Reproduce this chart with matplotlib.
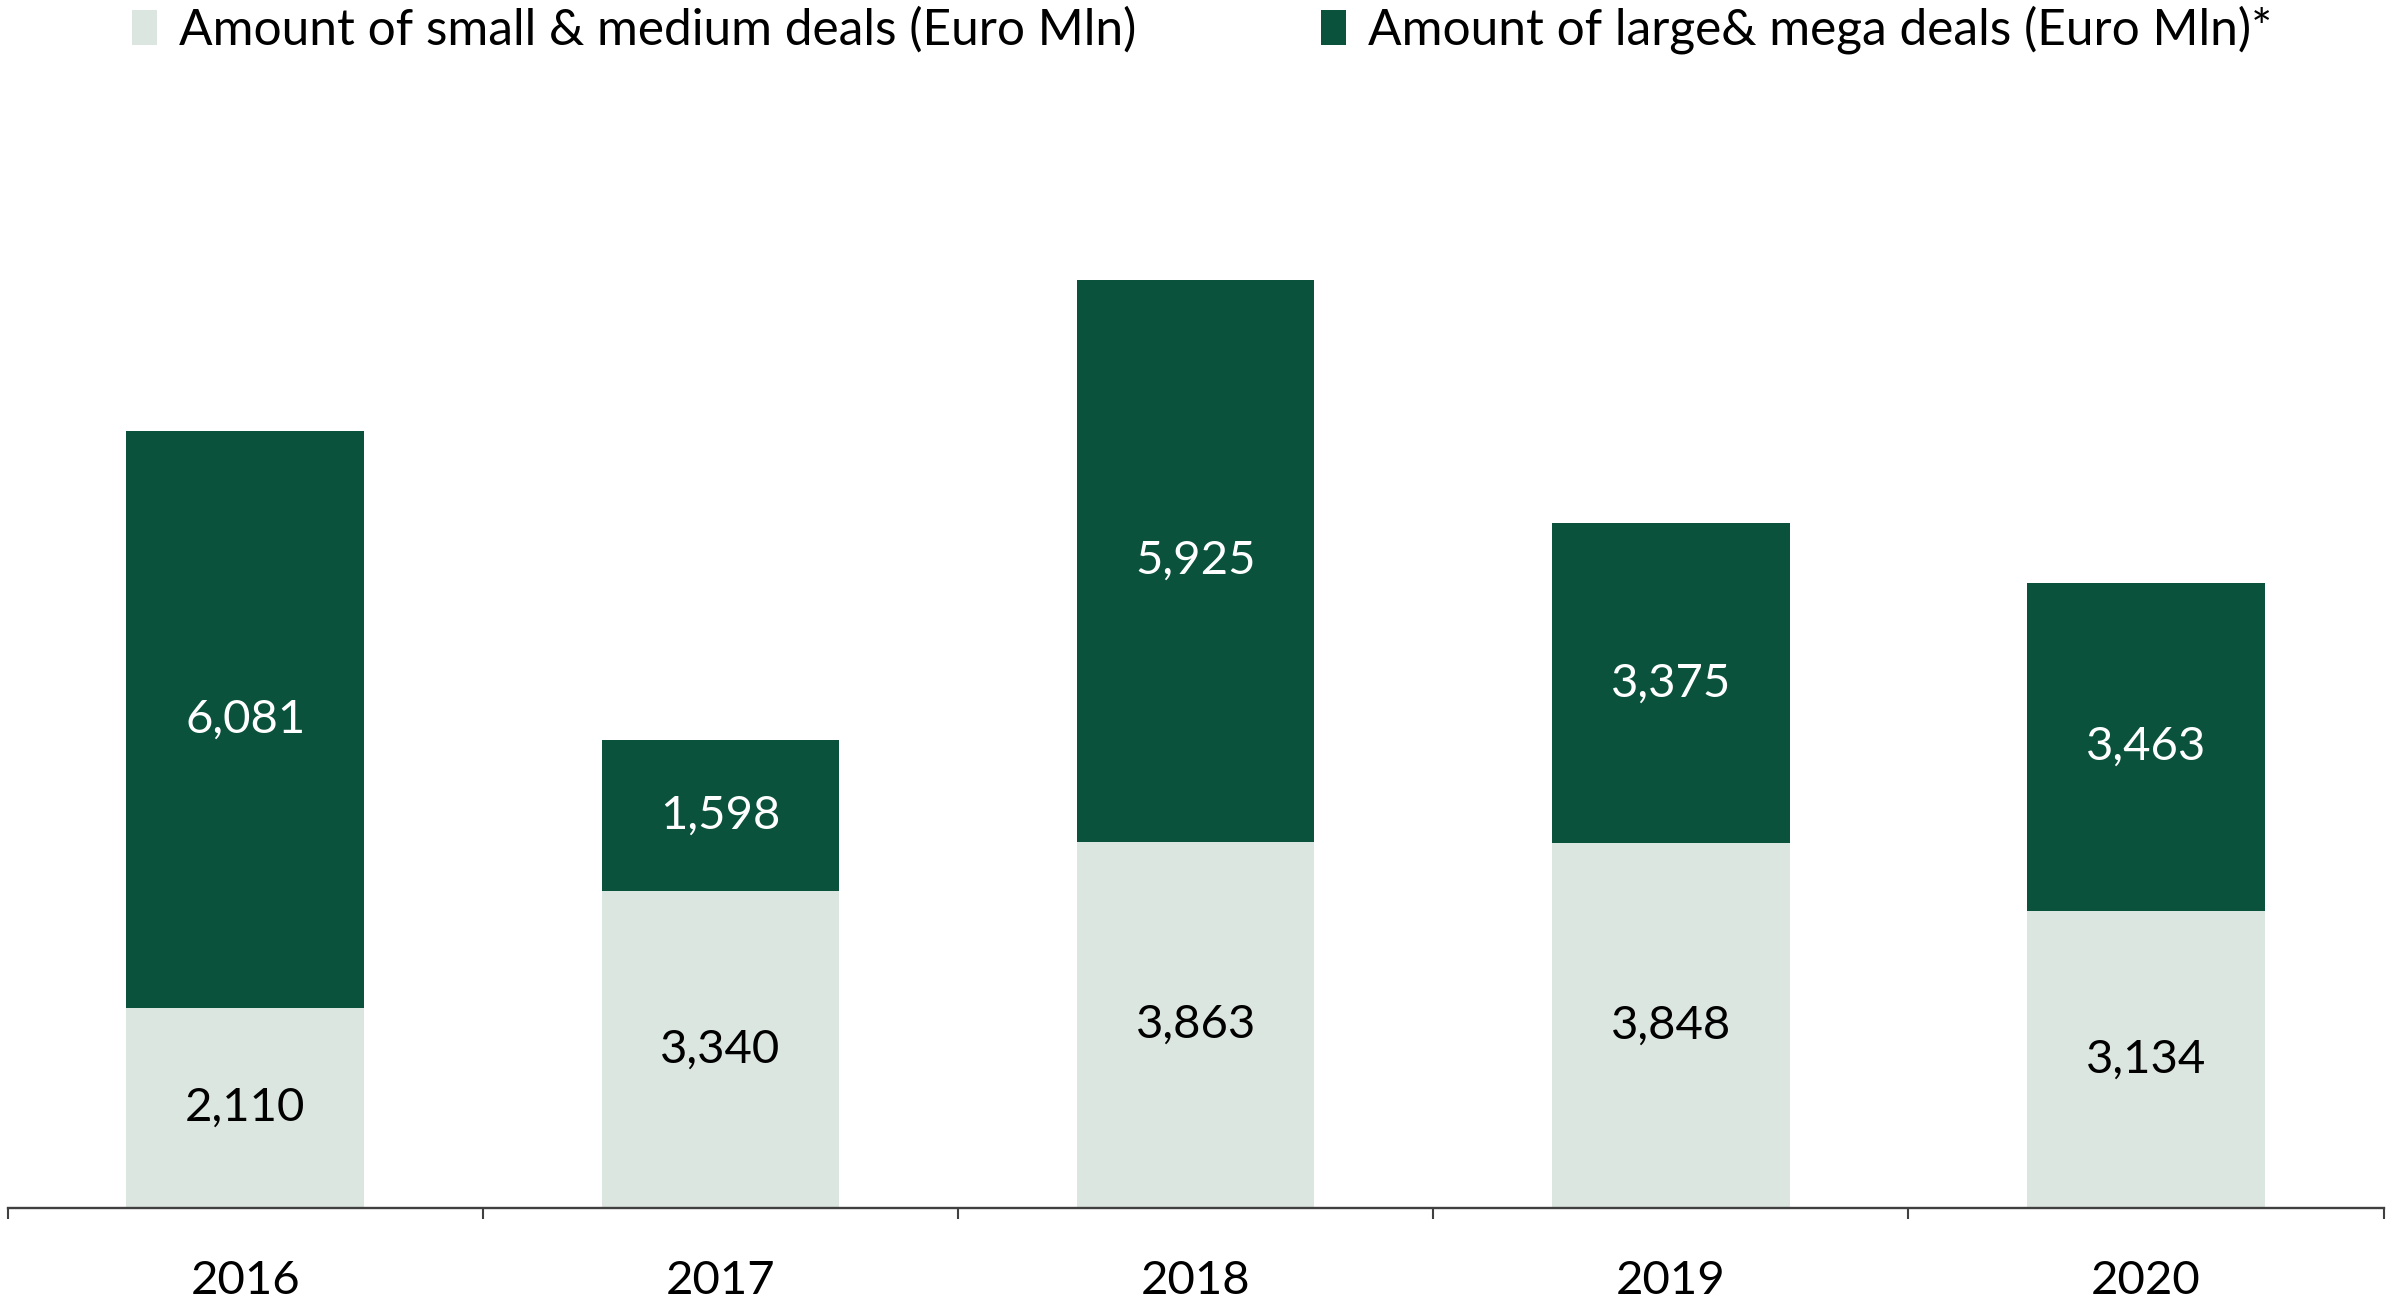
import matplotlib
matplotlib.use('Agg')
import matplotlib.pyplot as plt
from matplotlib.ticker import FixedLocator, NullFormatter

# Data
years = ['2016', '2017', '2018', '2019', '2020']
small_medium = [2110, 3340, 3863, 3848, 3134]
large_mega = [6081, 1598, 5925, 3375, 3463]
labels = ['Amount of small & medium deals (Euro Mln)',
          'Amount of large& mega deals (Euro Mln)*']

light = '#dce6e0'
dark = '#0b523d'

plt.rcParams['font.family'] = ['Lato', 'DejaVu Sans']

fig = plt.figure(figsize=(23.88, 13.01), dpi=100)
ax = fig.add_axes([0.0032, 0.0715, 0.995, 0.7294])

x = list(range(len(years)))
b1 = ax.bar(x, small_medium, width=0.5, color=light, label=labels[0])
b2 = ax.bar(x, large_mega, width=0.5, bottom=small_medium, color=dark, label=labels[1])

# value labels centred in each segment
for i in x:
    ax.text(i, small_medium[i] / 2, f'{small_medium[i]:,}', ha='center', va='center',
            fontsize=34, color='black')
    ax.text(i, small_medium[i] + large_mega[i] / 2, f'{large_mega[i]:,}', ha='center',
            va='center', fontsize=34, color='white')

ax.set_xlim(-0.5, len(years) - 0.5)
ax.set_ylim(0, 10010)

for s in ['top', 'right', 'left']:
    ax.spines[s].set_visible(False)
ax.spines['bottom'].set_color('#404040')
ax.spines['bottom'].set_linewidth(1.7)
ax.set_yticks([])

# ticks between categories, labels at centres
ax.xaxis.set_major_locator(FixedLocator([i - 0.5 for i in range(len(years) + 1)]))
ax.xaxis.set_major_formatter(NullFormatter())
ax.xaxis.set_minor_locator(FixedLocator(x))
ax.set_xticklabels(years, minor=True)
ax.tick_params(axis='x', which='major', length=8, width=1.5, color='#404040', direction='out')
ax.tick_params(axis='x', which='minor', length=0, pad=37.5, labelsize=34)

fig.legend(handles=[b1, b2], labels=labels, loc='center left',
           bbox_to_anchor=(0.0552, 0.977), ncol=2, frameon=False, fontsize=35.7,
           handlelength=0.5, handleheight=0.7, handletextpad=0.45, columnspacing=3.73,
           borderaxespad=0, borderpad=0)

plt.savefig('out.png', dpi=100)
